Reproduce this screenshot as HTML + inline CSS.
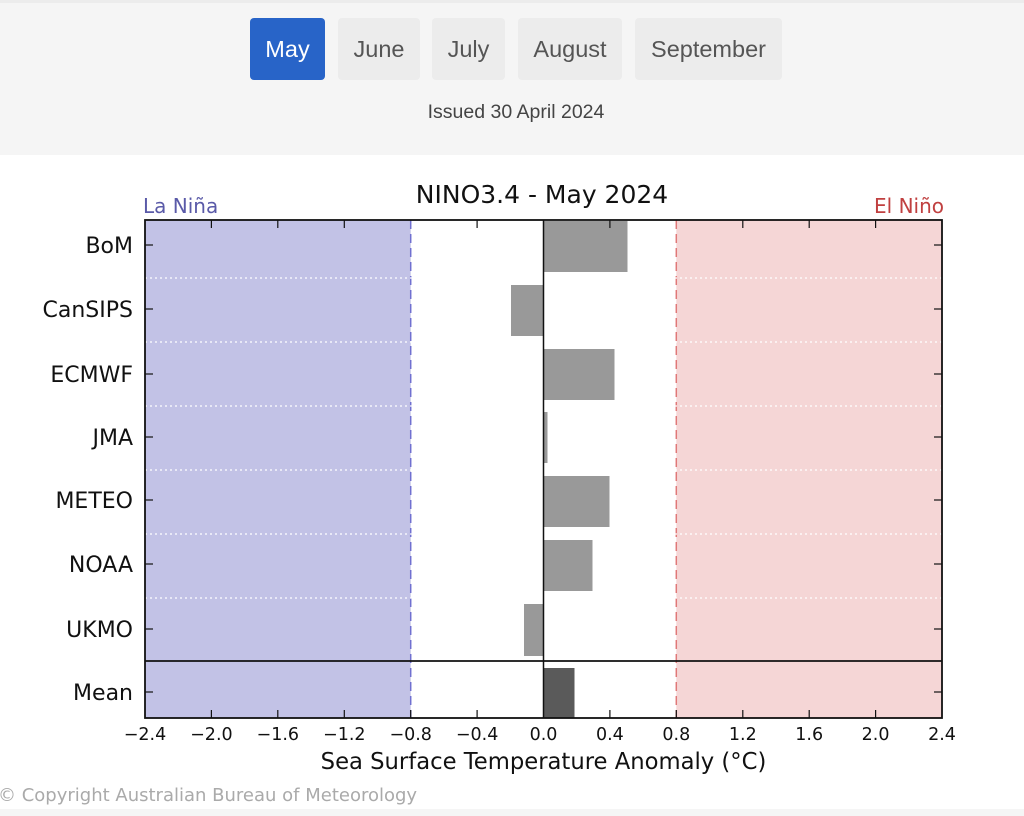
<!DOCTYPE html>
<html><head><meta charset="utf-8"><style>
html,body{margin:0;padding:0;width:1024px;height:816px;overflow:hidden;background:#fff;font-family:"Liberation Sans",sans-serif}
</style></head><body>
<svg width="1024" height="816" xmlns="http://www.w3.org/2000/svg" font-family="DejaVu Sans, sans-serif">
<rect x="0" y="0" width="1024" height="155" fill="#f5f5f5"/>
<rect x="0" y="0" width="1024" height="3" fill="#ececec"/>
<rect x="0" y="809" width="1024" height="7" fill="#f5f5f5"/>
<g font-family="Liberation Sans, sans-serif" font-size="23.5" text-anchor="middle">
<rect x="250" y="18" width="75" height="62" rx="4" fill="#2864c8"/><text x="287.5" y="57" fill="#fff">May</text>
<rect x="338" y="18" width="82" height="62" rx="4" fill="#ececec"/><text x="379" y="57" fill="#555">June</text>
<rect x="432" y="18" width="73" height="62" rx="4" fill="#ececec"/><text x="468.5" y="57" fill="#555">July</text>
<rect x="518" y="18" width="104" height="62" rx="4" fill="#ececec"/><text x="570" y="57" fill="#555">August</text>
<rect x="635" y="18" width="147" height="62" rx="4" fill="#ececec"/><text x="708.5" y="57" fill="#555">September</text>
<text x="516" y="118" font-size="19.5" fill="#444">Issued 30 April 2024</text>
</g>
<rect x="145" y="220" width="265.7" height="498" fill="#c2c2e6"/>
<rect x="676.3" y="220" width="265.7" height="498" fill="#f5d6d6"/>
<line x1="410.7" y1="220" x2="410.7" y2="718" stroke="#7070d0" stroke-width="1.5" stroke-dasharray="9,5"/>
<line x1="676.3" y1="220" x2="676.3" y2="718" stroke="#e07878" stroke-width="1.5" stroke-dasharray="9,5"/>
<g stroke="#fff" stroke-width="1.2" stroke-dasharray="2,3">
<line x1="145" x2="942" y1="278" y2="278"/><line x1="145" x2="942" y1="342" y2="342"/>
<line x1="145" x2="942" y1="406" y2="406"/><line x1="145" x2="942" y1="470" y2="470"/>
<line x1="145" x2="942" y1="534" y2="534"/><line x1="145" x2="942" y1="598" y2="598"/>
</g>
<g fill="#999">
<rect x="543.5" y="221" width="84" height="51"/>
<rect x="511" y="285" width="32.5" height="51"/>
<rect x="543.5" y="349" width="71" height="51"/>
<rect x="543.5" y="412" width="4" height="51"/>
<rect x="543.5" y="476" width="66" height="51"/>
<rect x="543.5" y="540" width="49" height="51"/>
<rect x="524" y="604" width="19.5" height="52"/>
</g>
<rect x="543.5" y="668" width="31" height="50" fill="#5a5a5a"/>
<line x1="543.5" y1="220" x2="543.5" y2="718" stroke="#111" stroke-width="1.5"/>
<line x1="145" y1="661" x2="942" y2="661" stroke="#111" stroke-width="1.8"/>
<rect x="145" y="220" width="797" height="498" fill="none" stroke="#111" stroke-width="1.8"/>
<g stroke="#111" stroke-width="1.2">
<line x1="145" x2="153" y1="245" y2="245"/><line x1="934" x2="942" y1="245" y2="245"/>
<line x1="145" x2="153" y1="309" y2="309"/><line x1="934" x2="942" y1="309" y2="309"/>
<line x1="145" x2="153" y1="374" y2="374"/><line x1="934" x2="942" y1="374" y2="374"/>
<line x1="145" x2="153" y1="437" y2="437"/><line x1="934" x2="942" y1="437" y2="437"/>
<line x1="145" x2="153" y1="500" y2="500"/><line x1="934" x2="942" y1="500" y2="500"/>
<line x1="145" x2="153" y1="564" y2="564"/><line x1="934" x2="942" y1="564" y2="564"/>
<line x1="145" x2="153" y1="629" y2="629"/><line x1="934" x2="942" y1="629" y2="629"/>
<line x1="145" x2="153" y1="692" y2="692"/><line x1="934" x2="942" y1="692" y2="692"/>
<line x1="211.4" x2="211.4" y1="710" y2="718"/><line x1="277.8" x2="277.8" y1="710" y2="718"/>
<line x1="344.3" x2="344.3" y1="710" y2="718"/><line x1="410.7" x2="410.7" y1="710" y2="718"/>
<line x1="477.1" x2="477.1" y1="710" y2="718"/><line x1="609.9" x2="609.9" y1="710" y2="718"/>
<line x1="676.3" x2="676.3" y1="710" y2="718"/><line x1="742.8" x2="742.8" y1="710" y2="718"/>
<line x1="809.2" x2="809.2" y1="710" y2="718"/><line x1="875.6" x2="875.6" y1="710" y2="718"/>
<line x1="211.4" x2="211.4" y1="220" y2="228"/><line x1="277.8" x2="277.8" y1="220" y2="228"/>
<line x1="344.3" x2="344.3" y1="220" y2="228"/><line x1="477.1" x2="477.1" y1="220" y2="228"/>
<line x1="609.9" x2="609.9" y1="220" y2="228"/><line x1="742.8" x2="742.8" y1="220" y2="228"/>
<line x1="809.2" x2="809.2" y1="220" y2="228"/><line x1="875.6" x2="875.6" y1="220" y2="228"/>
</g>
<g font-size="22" fill="#111" text-anchor="end">
<text x="133" y="253">BoM</text><text x="133" y="317">CanSIPS</text>
<text x="133" y="382">ECMWF</text><text x="133" y="445">JMA</text>
<text x="133" y="508">METEO</text><text x="133" y="572">NOAA</text>
<text x="133" y="637">UKMO</text><text x="133" y="700">Mean</text>
</g>
<g font-size="17.5" fill="#111" text-anchor="middle">
<text x="145" y="740">−2.4</text><text x="211.4" y="740">−2.0</text><text x="277.8" y="740">−1.6</text>
<text x="344.3" y="740">−1.2</text><text x="410.7" y="740">−0.8</text><text x="477.1" y="740">−0.4</text>
<text x="543.5" y="740">0.0</text><text x="609.9" y="740">0.4</text><text x="676.3" y="740">0.8</text>
<text x="742.8" y="740">1.2</text><text x="809.2" y="740">1.6</text><text x="875.6" y="740">2.0</text>
<text x="942" y="740">2.4</text>
</g>
<text x="543.5" y="769" font-size="22.7" fill="#111" text-anchor="middle">Sea Surface Temperature Anomaly (°C)</text>
<text x="542" y="203" font-size="25" fill="#111" text-anchor="middle">NINO3.4 - May 2024</text>
<text x="143" y="213" font-size="20" fill="#5a5aa8">La Niña</text>
<text x="944" y="213" font-size="20" fill="#c04040" text-anchor="end">El Niño</text>
<text x="-2" y="801" font-size="18" fill="#aaa">© Copyright Australian Bureau of Meteorology</text>
</svg>
</body></html>
